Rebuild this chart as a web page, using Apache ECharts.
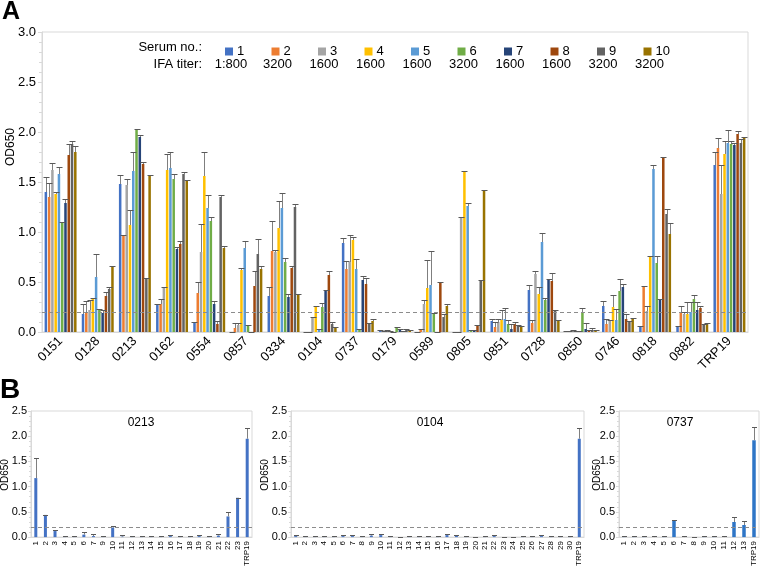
<!DOCTYPE html>
<html><head><meta charset="utf-8">
<script src="https://cdn.jsdelivr.net/npm/echarts@6/dist/echarts.min.js"></script>
<style>html,body{margin:0;padding:0;background:#fff}#c{width:760px;height:569px}</style>
</head><body><div id="c"></div>
<script>
// ---------- Panel A data ----------
const categoriesA = ['0151','0128','0213','0162','0554','0857','0334','0104','0737','0179','0589','0805','0851','0728','0850','0746','0818','0882','TRP19'];
const serumNames = ['1','2','3','4','5','6','7','8','9','10'];
const ifaTiters = ['1:800','3200','1600','1600','1600','3200','1600','1600','3200','3200'];
const serumColors = ['#4472C4','#ED7D31','#A5A5A5','#FFC000','#5B9BD5','#70AD47','#264478','#9E480E','#636363','#997300'];

const mean1 = [1.40,0.18,1.48,0.27,0.10,0.00,0.36,0.00,0.89,0.01,0.00,0.00,0.11,0.42,0.01,0.26,0.06,0.06,1.67];
const top1  = [1.55,0.28,1.57,0.28,0.10,0.00,0.45,0.00,0.94,0.02,0.00,0.00,0.13,0.47,0.01,0.31,0.06,0.06,1.80];
const mean2 = [1.35,0.19,0.97,0.28,0.39,0.04,0.81,0.00,0.63,0.01,0.02,0.00,0.05,0.09,0.01,0.08,0.46,0.20,1.84];
const top2  = [1.49,0.31,0.97,0.33,0.50,0.09,1.11,0.00,0.71,0.01,0.03,0.00,0.10,0.12,0.01,0.13,0.46,0.26,1.94];
const mean3 = [1.62,0.22,1.47,0.45,0.80,0.07,0.80,0.15,0.70,0.01,0.28,1.15,0.10,0.58,0.01,0.12,0.21,0.18,1.38];
const top3  = [1.69,0.32,1.53,0.45,1.08,0.09,0.82,0.15,0.97,0.02,0.32,1.15,0.13,0.61,0.02,0.12,0.26,0.20,1.67];
const mean4 = [1.38,0.34,1.07,1.62,1.56,0.62,1.04,0.26,0.92,0.01,0.44,1.60,0.12,0.38,0.01,0.25,0.76,0.18,1.78];
const top4  = [1.40,0.34,1.22,1.78,1.80,0.64,1.31,0.26,0.95,0.01,0.72,1.61,0.22,0.45,0.01,0.37,0.76,0.30,1.91];
const mean5 = [1.58,0.55,1.61,1.64,1.24,0.84,1.24,0.03,0.63,0.00,0.47,1.26,0.13,0.90,0.01,0.12,1.63,0.20,1.89];
const top5  = [1.65,0.78,1.80,1.80,1.37,0.91,1.39,0.03,0.73,0.00,0.81,1.29,0.24,0.99,0.01,0.23,1.67,0.30,2.02];
const mean6 = [1.09,0.22,2.03,1.53,1.11,0.06,0.70,0.25,0.02,0.04,0.19,0.02,0.08,0.32,0.20,0.41,0.69,0.33,1.88];
const top6  = [1.10,0.23,2.03,1.58,1.15,0.07,0.74,0.29,0.03,0.05,0.19,0.02,0.12,0.34,0.24,0.53,0.76,0.37,1.91];
const mean7 = [1.29,0.19,1.95,0.83,0.28,0.00,0.35,0.41,0.52,0.02,0.00,0.02,0.03,0.53,0.03,0.45,0.32,0.22,1.87];
const top7  = [1.33,0.22,1.97,0.85,0.31,0.00,0.38,0.42,0.56,0.03,0.00,0.02,0.08,0.53,0.09,0.48,0.33,0.30,1.89];
const mean8 = [1.77,0.36,1.68,0.88,0.08,0.46,0.64,0.57,0.48,0.00,0.50,0.06,0.08,0.51,0.01,0.13,1.74,0.24,1.98];
const top8  = [1.88,0.40,1.70,0.91,0.11,0.61,0.66,0.61,0.54,0.01,0.50,0.07,0.10,0.59,0.02,0.18,1.75,0.26,2.01];
const mean9 = [1.88,0.43,0.54,1.58,1.35,0.78,1.25,0.08,0.08,0.02,0.15,0.52,0.07,0.22,0.02,0.11,1.18,0.08,1.89];
const top9  = [1.91,0.45,0.54,1.60,1.37,0.93,1.28,0.10,0.09,0.03,0.18,0.52,0.07,0.22,0.04,0.11,1.23,0.08,1.93];
const mean10= [1.80,0.65,1.57,1.52,0.84,0.63,0.37,0.04,0.11,0.01,0.26,1.42,0.06,0.12,0.01,0.14,0.98,0.09,1.94];
const top10 = [1.86,0.66,1.57,1.52,0.86,0.66,0.38,0.05,0.13,0.02,0.28,1.42,0.06,0.12,0.02,0.14,1.09,0.09,1.95];
const yTicksA = ['0.0','0.5','1.0','1.5','2.0','2.5','3.0'];
const cutoff = 0.2;

// ---------- Panel B data ----------
const catsB1 = ['1','2','3','4','5','6','7','9','10','11','12','13','14','15','16','17','18','19','20','21','22','23','TRP19'];
const meanB1 = [1.17,0.44,0.12,0.01,0.01,0.05,0.02,0.01,0.19,0.01,0.01,0.01,0.01,0.01,0.02,0.02,0.01,0.02,0.02,0.03,0.41,0.78,1.95];
const topB1  = [1.57,0.44,0.15,0.03,0.03,0.10,0.06,0.03,0.23,0.04,0.03,0.03,0.02,0.03,0.04,0.03,0.02,0.04,0.03,0.06,0.49,0.78,2.17];
const catsB2 = ['1','2','3','4','5','6','7','8','9','10','11','12','13','14','15','16','17','18','19','20','21','22','23','24','25','26','27','28','29','30','TRP19'];
const meanB2 = [0.02,0.01,0.01,0.02,0.01,0.02,0.02,0.01,0.03,0.04,0.01,0.00,0.01,0.02,0.01,0.01,0.04,0.03,0.01,0.00,0.01,0.02,0.00,0.00,0.01,0.02,0.02,0.01,0.01,0.01,1.95];
const topB2  = [0.04,0.02,0.02,0.03,0.02,0.04,0.04,0.03,0.06,0.06,0.03,0.01,0.02,0.03,0.02,0.03,0.06,0.05,0.02,0.01,0.02,0.04,0.01,0.01,0.02,0.03,0.04,0.02,0.02,0.02,2.17];
const catsB3 = ['1','2','3','4','5','6','7','8','9','10','11','12','13','TRP19'];
const meanB3 = [0.01,0.01,0.01,0.00,0.01,0.33,0.00,0.00,0.01,0.01,0.00,0.30,0.24,1.92];
const topB3  = [0.02,0.03,0.03,0.03,0.03,0.33,0.02,0.01,0.02,0.03,0.03,0.39,0.31,2.18];
const titlesB = ['0213','0104','0737'];

// ---------- build ----------
const FONT = 'Liberation Sans, Arial, sans-serif';
const meansA = [mean1,mean2,mean3,mean4,mean5,mean6,mean7,mean8,mean9,mean10];
const topsA = [top1,top2,top3,top4,top5,top6,top7,top8,top9,top10];
const N = meansA.length;
const BAR_GAP = 0.3, CAT_GAP = 0.14;
const ERR_COLOR = '#595959';

function errRender(si, n, capW) {
  return function (params, api) {
    const ci = api.value(0), m = api.value(1), t = api.value(2);
    const p0 = api.coord([ci, m]);
    const p1 = api.coord([ci, t]);
    let cx = p0[0];
    if (n > 1) {
      const band = api.size([1, 0])[0];
      const rem = band * (1 - CAT_GAP);
      const w = rem / (n + (n - 1) * BAR_GAP);
      const sum = n * w + (n - 1) * BAR_GAP * w;
      cx = p0[0] - sum / 2 + si * w * (1 + BAR_GAP) + w / 2;
    }
    cx = Math.round(cx) + 0.5;
    const ty = Math.round(p1[1]) + 0.5;
    const children = [];
    if (p1[1] < p0[1] - 0.5) {
      children.push({type: 'line', shape: {x1: cx, y1: p0[1], x2: cx, y2: ty}, style: {stroke: '#7f7f7f', lineWidth: 1}});
    }
    children.push({type: 'line', shape: {x1: cx - capW / 2, y1: ty, x2: cx + capW / 2, y2: ty}, style: {stroke: ERR_COLOR, lineWidth: 1}});
    return {type: 'group', children};
  };
}

const cutLine = {
  silent: true, symbol: 'none', label: {show: false},
  lineStyle: {type: [4, 3], color: '#8c8c8c', width: 1},
  data: [{yAxis: cutoff}]
};

const grids = [
  {left: 42, top: 32, width: 706, height: 300, show: true, borderColor: '#d9d9d9', borderWidth: 1},
  {left: 31, top: 411, width: 221, height: 128, show: true, borderColor: '#d9d9d9', borderWidth: 1},
  {left: 291, top: 411, width: 293, height: 128, show: true, borderColor: '#d9d9d9', borderWidth: 1},
  {left: 619, top: 411, width: 140, height: 127, show: true, borderColor: '#d9d9d9', borderWidth: 1}
];

const xAxes = [
  {gridIndex: 0, type: 'category', data: categoriesA,
   axisLine: {lineStyle: {color: '#d9d9d9', width: 1}}, axisTick: {show: false},
   axisLabel: {rotate: 45, interval: 0, fontSize: 13, color: '#000', fontFamily: FONT, margin: 7}}
];
const yAxes = [
  {gridIndex: 0, type: 'value', min: 0, max: 3, interval: 0.5,
   axisLine: {show: true, lineStyle: {color: '#d9d9d9'}},
   axisTick: {show: true, length: 4, lineStyle: {color: '#d9d9d9'}},
   minorTick: {show: true, splitNumber: 5, length: 3, lineStyle: {color: '#d9d9d9'}},
   splitLine: {show: false},
   axisLabel: {fontSize: 13, color: '#000', fontFamily: FONT, margin: 6,
     formatter: v => yTicksA[Math.round(v / 0.5)]}}
];
const bCats = [catsB1, catsB2, catsB3];
bCats.forEach((cats, k) => {
  xAxes.push({gridIndex: k + 1, type: 'category', data: cats,
    axisLine: {lineStyle: {color: '#d9d9d9'}}, axisTick: {show: false},
    axisLabel: {rotate: 90, interval: 0, fontSize: 8, color: '#000', fontFamily: FONT, margin: 4}});
  yAxes.push({gridIndex: k + 1, type: 'value', min: 0, max: 2.5, interval: 0.5,
    axisLine: {show: true, lineStyle: {color: '#d9d9d9'}},
    axisTick: {show: true, length: 3, lineStyle: {color: '#d9d9d9'}},
    minorTick: {show: true, splitNumber: 5, length: 2, lineStyle: {color: '#d9d9d9'}},
    splitLine: {show: false},
    axisLabel: {fontSize: 11, color: '#000', fontFamily: FONT, margin: 4, formatter: v => v.toFixed(1)}});
});

const series = [];
meansA.forEach((arr, i) => {
  const s = {name: serumNames[i], type: 'bar', xAxisIndex: 0, yAxisIndex: 0, data: arr,
    itemStyle: {color: serumColors[i]}, barGap: (BAR_GAP * 100) + '%', barCategoryGap: (CAT_GAP * 100) + '%'};
  if (i === 0) s.markLine = cutLine;
  series.push(s);
});
meansA.forEach((arr, i) => {
  series.push({name: 'err' + (i + 1), type: 'custom', xAxisIndex: 0, yAxisIndex: 0, z: 5,
    renderItem: errRender(i, N, 6), encode: {x: 0, y: [1, 2]},
    data: arr.map((m, ci) => [ci, m, topsA[i][ci]])});
});
const bMeans = [meanB1, meanB2, meanB3];
const bTops = [topB1, topB2, topB3];
const bColors = ['#4472C4', '#4472C4', '#2E75C6'];
bMeans.forEach((arr, k) => {
  series.push({name: 'B' + k, type: 'bar', xAxisIndex: k + 1, yAxisIndex: k + 1, data: arr,
    barWidth: k === 2 ? 3.5 : 3, itemStyle: {color: bColors[k]}, markLine: cutLine});
  series.push({name: 'Berr' + k, type: 'custom', xAxisIndex: k + 1, yAxisIndex: k + 1, z: 5,
    renderItem: errRender(0, 1, 5), encode: {x: 0, y: [1, 2]},
    data: arr.map((m, ci) => [ci, m, bTops[k][ci]])});
});

const legendX0 = 220, legendStep = 46.5;
const legends = serumNames.map((n, i) => ({
  data: [n], left: legendX0 + legendStep * i, top: 40, icon: 'rect', itemWidth: 8, itemHeight: 8,
  itemGap: 0, selectedMode: false, textStyle: {fontSize: 13, color: '#000', fontFamily: FONT, padding: [0, 0, 0, -1]}
}));

const graphics = [
  {type: 'text', left: 2, top: 0, style: {text: 'A', font: 'bold 25px ' + FONT, fill: '#000'}},
  {type: 'text', left: 0, top: 376, style: {text: 'B', font: 'bold 28px ' + FONT, fill: '#000'}},
  {type: 'text', x: 202, y: 47, style: {text: 'Serum no.:', font: '13px ' + FONT, fill: '#000', textAlign: 'right', textVerticalAlign: 'middle'}},
  {type: 'text', x: 202, y: 64, style: {text: 'IFA titer:', font: '13px ' + FONT, fill: '#000', textAlign: 'right', textVerticalAlign: 'middle'}},
  {type: 'text', x: 11, y: 147, rotation: Math.PI / 2, style: {text: 'OD650', font: '12px ' + FONT, fill: '#000', textAlign: 'center', textVerticalAlign: 'middle'}},
  {type: 'text', x: 5, y: 475, rotation: Math.PI / 2, style: {text: 'OD650', font: '10px ' + FONT, fill: '#000', textAlign: 'center', textVerticalAlign: 'middle'}},
  {type: 'text', x: 265, y: 475, rotation: Math.PI / 2, style: {text: 'OD650', font: '10px ' + FONT, fill: '#000', textAlign: 'center', textVerticalAlign: 'middle'}},
  {type: 'text', x: 597, y: 475, rotation: Math.PI / 2, style: {text: 'OD650', font: '10px ' + FONT, fill: '#000', textAlign: 'center', textVerticalAlign: 'middle'}}
];
ifaTiters.forEach((t, i) => {
  graphics.push({type: 'text', x: legendX0 + legendStep * i + 11, y: 64,
    style: {text: t, font: '13px ' + FONT, fill: '#000', textAlign: 'center', textVerticalAlign: 'middle'}});
});
const titleX = [141, 430, 680];
titlesB.forEach((t, k) => {
  graphics.push({type: 'text', x: titleX[k], y: 423,
    style: {text: t, font: '12px ' + FONT, fill: '#000', textAlign: 'center', textVerticalAlign: 'middle'}});
});

const chart = echarts.init(document.getElementById('c'), null, {renderer: 'canvas'});
chart.setOption({
  animation: false,
  backgroundColor: '#fff',
  textStyle: {fontFamily: FONT},
  grid: grids, xAxis: xAxes, yAxis: yAxes,
  legend: legends,
  graphic: graphics,
  series: series
});
</script></body></html>
